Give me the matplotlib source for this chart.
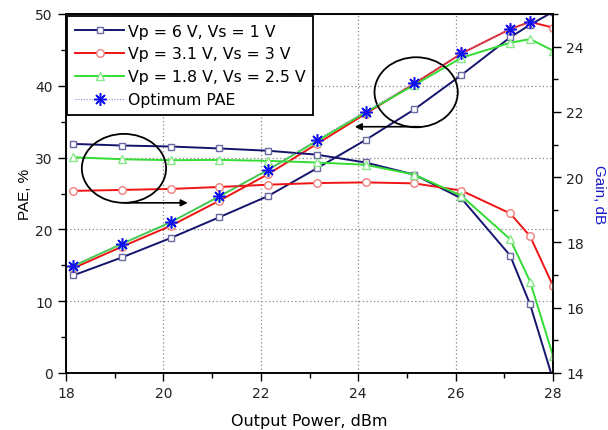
import matplotlib
matplotlib.use("Agg")
import matplotlib.pyplot as plt
from matplotlib.patches import Ellipse
from matplotlib.ticker import MultipleLocator

plt.rcParams['font.family'] = ['DejaVu Sans']

# ---- data ----
pout = [18.15, 19.15, 20.15, 21.15, 22.15, 23.15, 24.15, 25.15, 26.12, 27.12, 27.53, 28.0]
pae_6 = [13.6, 16.1, 18.8, 21.7, 24.65, 28.5, 32.45, 36.7, 41.5, 46.75, 48.5, 50.3]
pae_31 = [14.6, 17.6, 20.5, 24.0, 27.7, 31.9, 36.1, 40.3, 44.5, 47.9, 48.9, 48.1]
pae_18 = [14.9, 18.0, 21.0, 24.6, 28.3, 32.3, 36.3, 40.1, 43.9, 46.0, 46.5, 44.9]
pout_opt = [18.15, 19.15, 20.15, 21.15, 22.15, 23.15, 24.15, 25.15, 26.12, 27.12, 27.53]
pae_opt = [14.9, 18.0, 21.0, 24.7, 28.3, 32.5, 36.4, 40.4, 44.5, 47.9, 48.9]
gain_6 = [21.02, 20.97, 20.94, 20.88, 20.81, 20.69, 20.45, 20.08, 19.35, 17.6, 16.1, 13.8]
gain_31 = [19.58, 19.61, 19.64, 19.70, 19.77, 19.82, 19.84, 19.81, 19.59, 18.89, 18.19, 16.67]
gain_18 = [20.61, 20.55, 20.52, 20.53, 20.50, 20.45, 20.38, 20.08, 19.43, 18.10, 16.80, 14.53]
labels = ['Vp = 6 V, Vs = 1 V', 'Vp = 3.1 V, Vs = 3 V', 'Vp = 1.8 V, Vs = 2.5 V', 'Optimum PAE']
xticks = [18, 20, 22, 24, 26, 28]
pae_ticks = [0, 10, 20, 30, 40, 50]
gain_ticks = [14, 16, 18, 20, 22, 24]

c_blue, c_red, c_green = '#14146e', '#ee1414', '#33dd33'
e_blue, e_red, e_green = '#6a6aa0', '#f07c7c', '#88e888'

fig = plt.figure(figsize=(6.08, 4.31), dpi=100)
ax = fig.add_axes([66/608, 57/431, (553-66)/608, (374-15)/431])
ax2 = ax.twinx()

ax.set_xlim(18, 28)
ax.set_ylim(0, 50)
ax2.set_ylim(14, 25)

ax.grid(True, which='major', linestyle=(0, (1, 2)), color='#888888', linewidth=0.9)
ax.set_axisbelow(True)

common = dict(lw=1.4, mfc='white', mew=1.0)
sq = dict(marker='s', ms=4.5, mec=e_blue)
ci = dict(marker='o', ms=5.4, mec=e_red)
tr = dict(marker='^', ms=6.0, mec=e_green)
l1, = ax.plot(pout, pae_6, color=c_blue, **sq, **common)
l2, = ax.plot(pout, pae_31, color=c_red, **ci, **common)
l3, = ax.plot(pout, pae_18, color=c_green, **tr, **common)
ax2.plot(pout, gain_6, color=c_blue, **sq, **common)
ax2.plot(pout, gain_31, color=c_red, **ci, **common)
ax2.plot(pout, gain_18, color=c_green, **tr, **common)
ax2.set_zorder(ax.get_zorder() + 1)
ax2.patch.set_visible(False)

# optimum PAE stars on PAE scale, placed on top
ax4 = fig.add_axes(ax.get_position(), frameon=False)
ax4.set_xlim(18, 28)
ax4.set_ylim(0, 50)
ax4.set_zorder(ax2.get_zorder() + 1)
h_opt, = ax4.plot(pout_opt, pae_opt, color='#8a8ac8', lw=0.8, ls=(0, (1, 1.5)),
                  marker=(8, 2, 0), ms=9, mec='#1010f0', mew=1.1)
ax4.axis('off')

# ellipses and arrows
ax4.add_patch(Ellipse((19.19, 28.5), 1.73, 9.6, fill=False, ec='black', lw=1.3))
ax4.add_patch(Ellipse((25.19, 39.1), 1.71, 9.75, fill=False, ec='black', lw=1.3))
ax4.annotate('', xy=(20.5, 23.7), xytext=(19.2, 23.7),
             arrowprops=dict(arrowstyle='-|>', color='black', lw=1.2, mutation_scale=10,
                             shrinkA=0, shrinkB=0))
ax4.annotate('', xy=(23.93, 34.3), xytext=(25.27, 34.3),
             arrowprops=dict(arrowstyle='-|>', color='black', lw=1.2, mutation_scale=10,
                             shrinkA=0, shrinkB=0))

# ticks
ax.set_xticks(xticks)
ax.xaxis.set_minor_locator(MultipleLocator(1))
ax.set_yticks(pae_ticks)
ax.yaxis.set_minor_locator(MultipleLocator(5))
ax2.set_yticks(gain_ticks)
ax2.yaxis.set_minor_locator(MultipleLocator(1))
for a in (ax, ax2):
    a.tick_params(which='major', direction='out', length=6, width=1.0, labelsize=10,
                  colors='black', labelcolor='#222222')
    a.tick_params(which='minor', direction='out', length=3.5, width=1.0)
    for s in a.spines.values():
        s.set_linewidth(1.2)

ax.set_xlabel('Output Power, dBm', fontsize=11.5, labelpad=9)
ax.set_ylabel('PAE, %', fontsize=11, labelpad=2, family='Liberation Sans')
ax2.set_ylabel('Gain, dB', fontsize=11, color='#1818c8', rotation=-90, labelpad=16,
               family='Liberation Sans')

# legend
leg = ax4.legend([l1, l2, l3, h_opt], labels, loc='upper left', bbox_to_anchor=(0.003, 0.995),
                 borderaxespad=0, fontsize=11.3, numpoints=1, handlelength=3.1,
                 handletextpad=0.25, labelspacing=0.5, borderpad=0.5,
                 fancybox=False, framealpha=1, edgecolor='black')
leg.get_frame().set_linewidth(1.3)

fig.savefig('out.png', dpi=100)
